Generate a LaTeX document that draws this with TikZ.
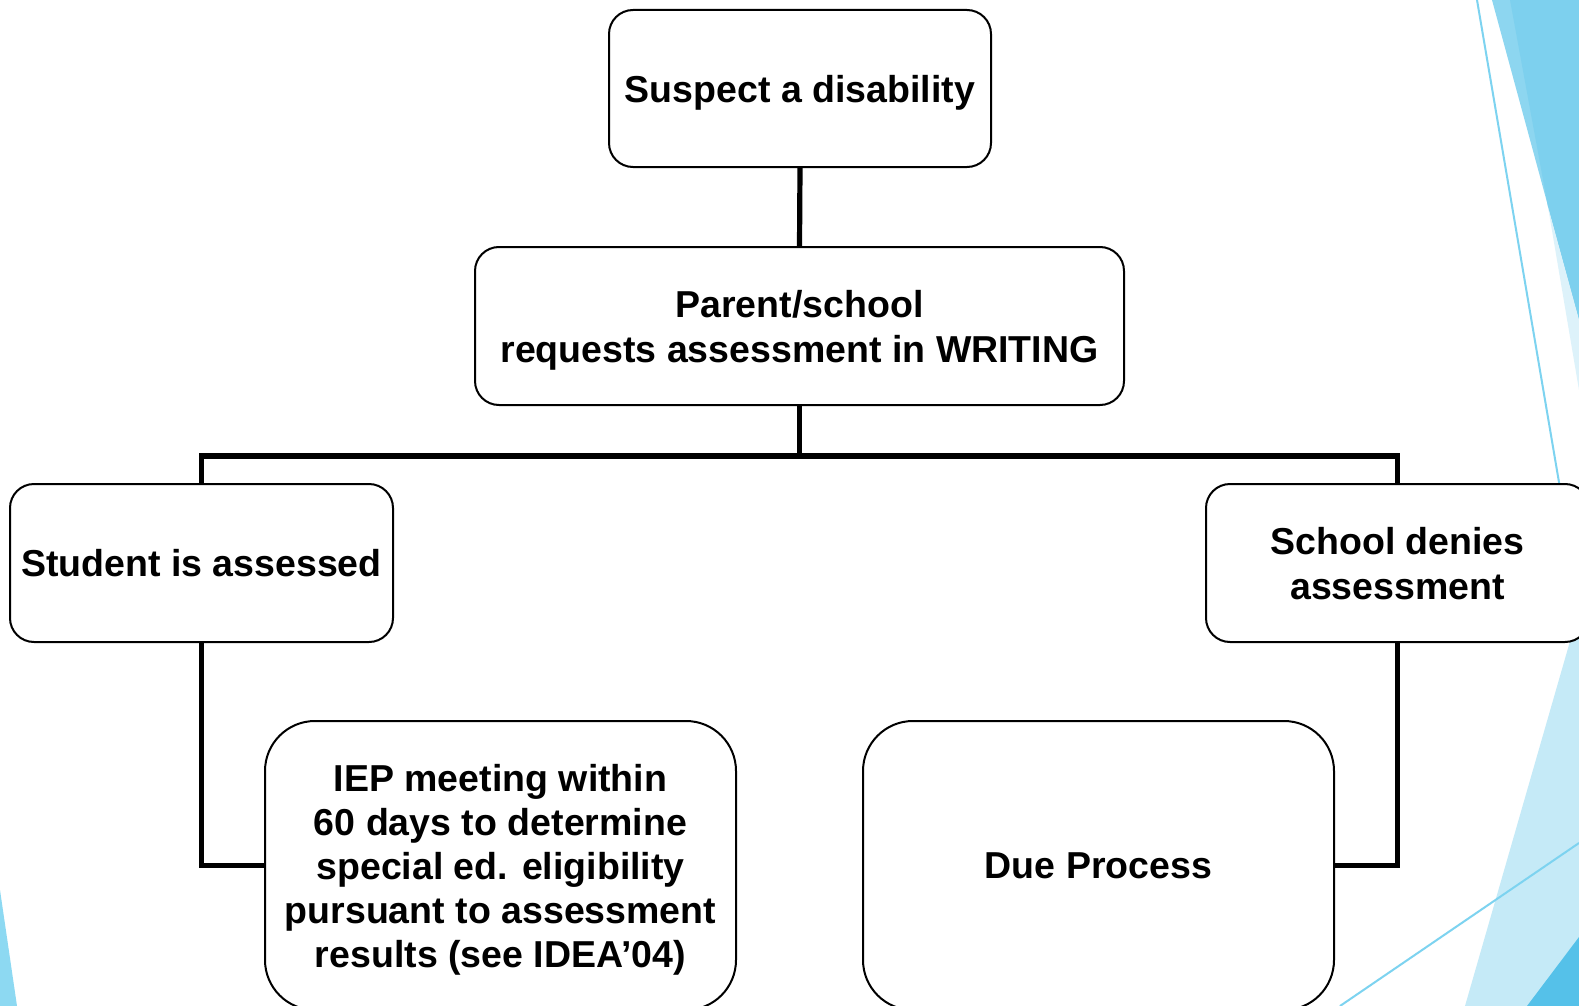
\documentclass[tikz,border=0pt]{standalone}
\usepackage{fontspec}
\setmainfont{Liberation Sans}
\begin{document}
\begin{tikzpicture}[x=0.5pt,y=-0.5pt,
  box/.style={draw=black, line width=1pt, fill=white, rectangle, align=center,
    font=\fontsize{18.75pt}{22.5pt}\selectfont\bfseries, inner sep=0pt, text depth=0pt},
  conn/.style={draw=black, line width=2.6pt}]
\useasboundingbox (0,0) rectangle (1579,1006);
\clip (0,0) rectangle (1579,1006);
\fill[white] (0,0) rectangle (1579,1006);
% decoration
\fill[color={rgb,255:red,141;green,214;blue,240}] (1492,0) -- (1579,0) -- (1579,320) -- cycle;
\fill[color={rgb,255:red,125;green,208;blue,238}] (1510,0) -- (1579,0) -- (1579,320) -- (1548,207) -- cycle;
\fill[color={rgb,255:red,221;green,242;blue,250}] (1548,207) -- (1579,320) -- (1579,390) -- cycle;
\draw[color={rgb,255:red,125;green,211;blue,240}, line width=1pt] (1477,0) -- (1579,600);
\fill[color={rgb,255:red,197;green,234;blue,247}] (1579,610) -- (1579,1006) -- (1465,1006) -- cycle;
\fill[color={rgb,255:red,85;green,193;blue,233}] (1579,937) -- (1579,1006) -- (1527,1006) -- cycle;
\draw[color={rgb,255:red,125;green,211;blue,240}, line width=1pt] (1340,1006) -- (1579,843);
\fill[color={rgb,255:red,141;green,217;blue,242}] (0,890) -- (17,1006) -- (0,1006) -- cycle;
% nodes
\node[box, rounded corners=12pt, minimum width=191pt, minimum height=78.5pt] (sus) at (800,88.5) {Suspect a disability};
\node[box, rounded corners=12pt, minimum width=324.5pt, minimum height=79pt] (par) at (799.5,326) {Parent/school\\requests assessment in WRITING};
\node[box, rounded corners=12pt, minimum width=191.5pt, minimum height=79pt] (stu) at (201.5,563) {Student is assessed};
\node[box, rounded corners=12pt, minimum width=191.5pt, minimum height=79pt] (sch) at (1397.5,563) {School denies\\assessment};
\node[box, rounded corners=25pt, minimum width=235.5pt, minimum height=144.5pt,
  font=\fontsize{18.75pt}{22pt}\selectfont\bfseries] (iep) at (500.5,865.5) {IEP meeting within\\60 days to determine\\special ed. eligibility\\pursuant to assessment\\results (see IDEA’04)};
\node[box, rounded corners=25pt, minimum width=235.5pt, minimum height=144.5pt] (due) at (1098.5,865.5) {Due Process};
% connectors
\coordinate (j) at (799.5,456);
\draw[conn] (sus.south) -- (par.north);
\draw[conn] (par.south) -- (j);
\draw[conn] (stu.north) |- (j) -| (sch.north);
\draw[conn] (stu.south) |- (iep.west);
\draw[conn] (sch.south) |- (due.east);
\end{tikzpicture}
\end{document}
